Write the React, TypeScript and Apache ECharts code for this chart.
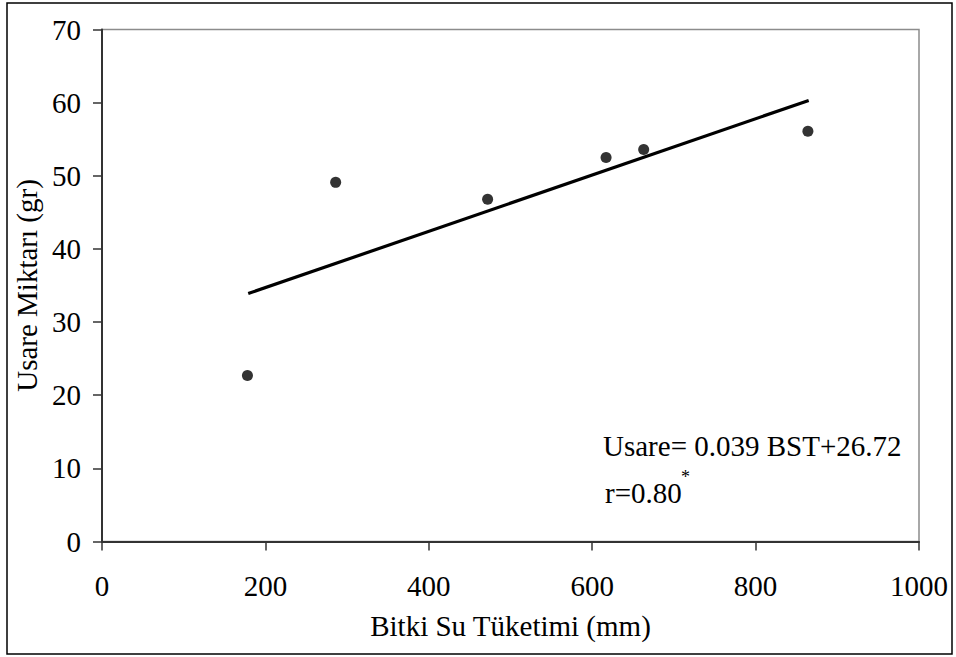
import React, { useEffect, useRef } from "react";
import * as echarts from "echarts";

// Data
const bstValues = [178, 286, 472, 617, 663, 864];
const usareValues = [22.7, 49.1, 46.8, 52.5, 53.6, 56.1];
const trendX = [179, 865];
const trendY = [33.9, 60.3];

const xTitle = "Bitki Su Tüketimi (mm)";
const yTitle = "Usare Miktarı (gr)";
const equationText = "Usare= 0.039 BST+26.72";
const rText = "r=0.80";

const FONT = "'Liberation Serif', 'Times New Roman', serif";
const FS = 29;

export default function App() {
  const ref = useRef<HTMLDivElement>(null);

  useEffect(() => {
    if (!ref.current) return;
    const chart = echarts.init(ref.current, null, { renderer: "svg" });
    const scatterData = bstValues.map((x, i) => [x, usareValues[i]]);
    const trendData = trendX.map((x, i) => [x, trendY[i]]);

    chart.setOption({
      animation: false,
      backgroundColor: "#ffffff",
      textStyle: { fontFamily: FONT, color: "#000" },
      grid: {
        left: 102,
        top: 29.5,
        right: 37,
        bottom: 115.5,
        show: true,
        borderColor: "#8c8c8c",
        borderWidth: 1.5,
        backgroundColor: "#ffffff",
      },
      xAxis: {
        type: "value",
        min: 0,
        max: 1000,
        interval: 200,
        name: xTitle,
        nameLocation: "middle",
        nameGap: 70,
        nameTextStyle: { fontFamily: FONT, fontSize: FS, color: "#000" },
        axisLine: { show: true, onZero: false, lineStyle: { color: "#333", width: 2 } },
        axisTick: { show: true, inside: false, length: 9, lineStyle: { color: "#333", width: 1.5 } },
        axisLabel: {
          fontFamily: FONT,
          fontSize: FS,
          color: "#000",
          margin: 30,
          formatter: (v: number) => String(v),
        },
        splitLine: { show: false },
      },
      yAxis: {
        type: "value",
        min: 0,
        max: 70,
        interval: 10,
        name: yTitle,
        nameLocation: "middle",
        nameGap: 47,
        nameRotate: 90,
        nameTextStyle: { fontFamily: FONT, fontSize: FS, color: "#000" },
        axisLine: { show: true, onZero: false, lineStyle: { color: "#333", width: 2 } },
        axisTick: { show: true, inside: false, length: 9, lineStyle: { color: "#333", width: 1.5 } },
        axisLabel: {
          fontFamily: FONT,
          fontSize: FS,
          color: "#000",
          margin: 21,
          formatter: (v: number) => String(v),
        },
        splitLine: { show: false },
      },
      series: [
        {
          type: "line",
          data: trendData,
          symbol: "none",
          lineStyle: { color: "#000", width: 3.2 },
          silent: true,
          z: 2,
        },
        {
          type: "scatter",
          data: scatterData,
          symbol: "circle",
          symbolSize: 11,
          itemStyle: { color: "#000" },
          z: 3,
        },
      ],
      graphic: [
        {
          type: "rect",
          shape: { x: 7, y: 3, width: 945, height: 651 },
          style: { fill: "none", stroke: "#000", lineWidth: 1.5 },
          silent: true,
          z: -1,
        },
        {
          type: "text",
          x: 603,
          y: 446,
          style: {
            text: equationText,
            fontFamily: FONT,
            fontSize: FS,
            fill: "#000",
            verticalAlign: "middle",
            align: "left",
          },
        },
        {
          type: "text",
          x: 605,
          y: 493,
          style: {
            text: rText,
            fontFamily: FONT,
            fontSize: FS,
            fill: "#000",
            verticalAlign: "middle",
            align: "left",
          },
        },
        {
          type: "text",
          x: 681,
          y: 477,
          style: {
            text: "*",
            fontFamily: FONT,
            fontSize: 18,
            fill: "#000",
            verticalAlign: "middle",
            align: "left",
          },
        },
      ],
    });

    return () => {
      chart.dispose();
    };
  }, []);

  return (
    <div
      ref={ref}
      style={{ position: "absolute", left: 0, top: 0, width: 956, height: 657 }}
    />
  );
}
